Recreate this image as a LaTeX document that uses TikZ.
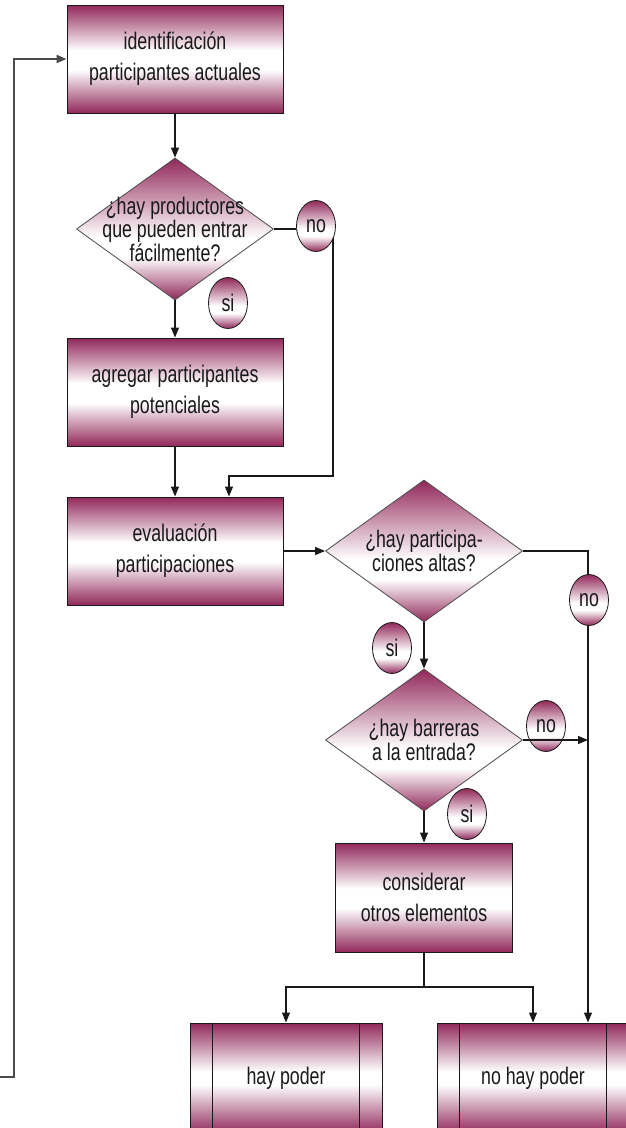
\documentclass[tikz,border=0pt]{standalone}
\usepackage{fontspec}
\setmainfont[FakeStretch=0.74]{Liberation Sans}
\usetikzlibrary{shapes.geometric,arrows.meta}
\definecolor{granate}{RGB}{145,40,90}
\definecolor{trazo}{RGB}{25,25,25}
\definecolor{gris}{RGB}{75,75,75}
% sombreados: oscuro arriba y abajo, blanco en medio
\pgfdeclareverticalshading{cajasombra}{100bp}{color(0bp)=(granate); color(25bp)=(granate); color(45bp)=(white); color(54bp)=(white); color(75bp)=(granate); color(100bp)=(granate)}
\pgfdeclareverticalshading{rombosombra}{100bp}{color(0bp)=(granate); color(25bp)=(granate); color(40bp)=(white); color(47bp)=(white); color(75bp)=(granate); color(100bp)=(granate)}
\pgfdeclareverticalshading{finsombra}{100bp}{color(0bp)=(granate); color(25bp)=(granate); color(47bp)=(white); color(53bp)=(white); color(75bp)=(granate); color(100bp)=(granate)}
\tikzset{
  caja/.style={rectangle, draw=trazo, line width=1pt, shade, shading=cajasombra, minimum width=216pt, minimum height=108pt, inner sep=0pt, align=center, text=trazo, font=\fontsize{24}{31}\selectfont},
  rombo/.style={diamond, draw=gris, line width=0.8pt, shade, shading=rombosombra, minimum width=197pt, minimum height=142pt, inner sep=0pt},
  txtrombo/.style={align=center, text=trazo, inner sep=0pt, font=\fontsize{24}{23.5}\selectfont},
  ovalo/.style={ellipse, draw=trazo, line width=0.8pt, shade, shading=rombosombra, minimum width=39pt, minimum height=51pt, inner sep=0pt, text=trazo, font=\fontsize{24}{24}\selectfont},
  fin/.style={rectangle, draw=trazo, line width=1pt, shade, shading=finsombra, minimum width=192pt, minimum height=110pt, inner sep=0pt, text=trazo, font=\fontsize{24}{24}\selectfont},
  flecha/.style={draw=trazo, line width=1.2pt, -{Triangle[length=10pt,width=8pt]}},
  linea/.style={draw=trazo, line width=1.2pt}
}
\begin{document}
\begin{tikzpicture}[x=1pt,y=-1pt]
\useasboundingbox (0,0) rectangle (626,1128);
% cajas y decisiones
\node[caja] (ident) at (175,59) {identificación\\participantes actuales};
\node[rombo, label={[txtrombo]center:{¿hay productores\\que pueden entrar\\fácilmente?}}] (prod) at (175,229) {};
\node[caja] (agreg) at (175,392) {agregar participantes\\potenciales};
\node[caja] (eval) at (175,551) {evaluación\\participaciones};
\node[rombo, label={[txtrombo]center:{¿hay participa-\\ciones altas?}}] (altas) at (424,551) {};
\node[rombo, label={[txtrombo]center:{¿hay barreras\\a la entrada?}}] (barr) at (424,740) {};
\node[caja, minimum width=177pt, minimum height=109pt] (cons) at (424,897.5) {considerar\\otros elementos};
\node[fin] (hp) at (286,1078) {hay poder};
\node[fin] (nhp) at (533,1078) {no hay poder};
\draw[trazo, line width=1pt] ([xshift=23pt]hp.north west) -- ([xshift=23pt]hp.south west); \draw[trazo, line width=1pt] ([xshift=-23pt]hp.north east) -- ([xshift=-23pt]hp.south east);
\draw[trazo, line width=1pt] ([xshift=23pt]nhp.north west) -- ([xshift=23pt]nhp.south west); \draw[trazo, line width=1pt] ([xshift=-23pt]nhp.north east) -- ([xshift=-23pt]nhp.south east);
% conectores
\coordinate (retorno) at (0,1077); \coordinate (codo) at (333,476); \coordinate (rama) at (424,987);
\draw[flecha, draw=gris, line width=2pt] (retorno) -- ++(14,0) |- (ident.west);
\draw[flecha] (ident) -- (prod); \draw[flecha] (prod) -- (agreg); \draw[flecha] (agreg) -- (eval);
\draw[flecha] (prod.east) -| (codo) -| ([xshift=54pt]eval.north);
\draw[flecha] (eval.east) -- (altas.west);
\draw[flecha] (altas) -- (barr); \draw[flecha] (barr) -- (cons);
\draw[flecha] (altas.east) -| ([xshift=55pt]nhp.north);
\draw[linea] (cons) -- (rama); \draw[flecha] (rama) -| (hp); \draw[flecha] (rama) -| (nhp);
% respuestas
\node[ovalo] (no1) at (316,226) {no}; \node[ovalo] (si1) at (228,303) {si};
\node[ovalo] (no2) at (589,600) {no}; \node[ovalo] (si2) at (392,648) {si};
\node[ovalo] (no3) at (546,726) {no}; \node[ovalo] (si3) at (467,814) {si};
\draw[flecha] (barr.east) -- ([xshift=55pt]nhp.north |- barr.east);
\end{tikzpicture}
\end{document}
